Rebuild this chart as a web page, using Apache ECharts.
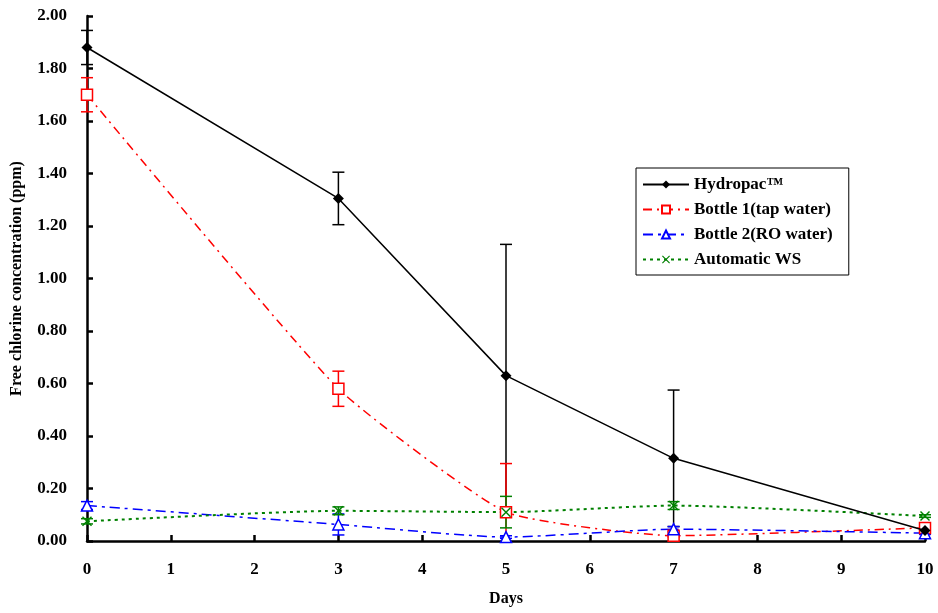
<!DOCTYPE html>
<html>
<head>
<meta charset="utf-8">
<script src="https://cdn.jsdelivr.net/npm/echarts@6/dist/echarts.min.js"></script>
<style>
  html, body { margin: 0; padding: 0; background: #fff; }
  #container { width: 938px; height: 613px; }
</style>
</head>
<body>
<div id="container"></div>
<script>
// days sampled
let days = [0, 3, 5, 7, 10];

// mean free chlorine (ppm) and error bar half-widths
let hydropac = [1.88, 1.305, 0.63, 0.315, 0.04];
let hydropacErr = [0.065, 0.10, 0.50, 0.26, 0];
let bottle1 = [1.70, 0.58, 0.11, 0.02, 0.05];
let bottle1Err = [0.065, 0.067, 0.185, 0.005, 0.005];
let bottle2 = [0.135, 0.063, 0.015, 0.045, 0.03];
let bottle2Err = [0.015, 0.04, 0.005, 0.01, 0.005];
let autoWS = [0.075, 0.115, 0.11, 0.135, 0.095];
let autoWSErr = [0.01, 0.015, 0.06, 0.015, 0.005];

let xTicks = [0, 1, 2, 3, 4, 5, 6, 7, 8, 9, 10];

const font = 'Liberation Serif';
const crossPath = 'path://M0,1L1,0L5,4L9,0L10,1L6,5L10,9L9,10L5,6L1,10L0,9L4,5Z';

function pairs(ys) {
    return days.map((d, i) => [d, ys[i]]);
}

function errData(ys, errs) {
    return days.map((d, i) => [d, ys[i], errs[i]]);
}

function errSeries(name, ys, errs, color) {
    return {
        type: 'custom',
        name: name + ' err',
        silent: true,
        z: 1,
        data: errData(ys, errs),
        renderItem: function (params, api) {
            let x = api.value(0), y = api.value(1), e = api.value(2);
            if (!e) return;
            let lowVal = y - e;
            let top = api.coord([x, y + e]);
            let bot = api.coord([x, Math.max(lowVal, 0)]);
            let w = 6;
            let style = { stroke: color, lineWidth: 1.5 };
            let kids = [
                { type: 'line', shape: { x1: top[0], y1: top[1], x2: bot[0], y2: bot[1] }, style: style },
                { type: 'line', shape: { x1: top[0] - w, y1: top[1], x2: top[0] + w, y2: top[1] }, style: style }
            ];
            if (lowVal >= 0) {
                kids.push({ type: 'line', shape: { x1: bot[0] - w, y1: bot[1], x2: bot[0] + w, y2: bot[1] }, style: style });
            }
            return { type: 'group', children: kids };
        }
    };
}

var dom = document.getElementById('container');
var myChart = echarts.init(dom, null, { renderer: 'canvas' });

var option = {
    animation: false,
    backgroundColor: '#fff',
    grid: { left: 87, right: 13, top: 16, bottom: 72, outerBoundsMode: 'none' },
    legend: {
        orient: 'vertical',
        left: 636,
        top: 168,
        padding: [8, 16, 7, 6],
        itemGap: 8,
        itemWidth: 46,
        itemHeight: 10,
        borderColor: '#000',
        borderWidth: 1,
        backgroundColor: '#fff',
        data: ['Hydropac™', 'Bottle 1(tap water)', 'Bottle 2(RO water)', 'Automatic WS'],
        textStyle: { fontFamily: font, fontWeight: 'bold', fontSize: 17, color: '#000' }
    },
    xAxis: {
        type: 'value',
        min: 0,
        max: 10,
        interval: 1,
        name: 'Days',
        nameLocation: 'middle',
        nameGap: 50,
        nameTextStyle: { fontFamily: font, fontWeight: 'bold', fontSize: 16, color: '#000' },
        axisLine: { lineStyle: { color: '#000', width: 2.5 } },
        axisTick: { inside: true, length: 6, lineStyle: { color: '#000', width: 2.5 } },
        axisLabel: { margin: 20, fontFamily: font, fontWeight: 'bold', fontSize: 17, color: '#000',
            formatter: v => xTicks.includes(v) ? String(v) : '' },
        splitLine: { show: false }
    },
    yAxis: {
        type: 'value',
        min: 0,
        max: 2,
        interval: 0.2,
        name: 'Free chlorine concentration (ppm)',
        nameLocation: 'middle',
        nameGap: 62,
        nameTextStyle: { fontFamily: font, fontWeight: 'bold', fontSize: 16, color: '#000' },
        axisLine: { show: true, lineStyle: { color: '#000', width: 2.5 } },
        axisTick: { show: true, inside: true, length: 6, lineStyle: { color: '#000', width: 2.5 } },
        axisLabel: { margin: 20, fontFamily: font, fontWeight: 'bold', fontSize: 17, color: '#000',
            formatter: v => v.toFixed(2) },
        splitLine: { show: false }
    },
    series: [
        errSeries('Hydropac™', hydropac, hydropacErr, '#000'),
        errSeries('Bottle 1(tap water)', bottle1, bottle1Err, '#ff0000'),
        errSeries('Bottle 2(RO water)', bottle2, bottle2Err, '#0000ff'),
        errSeries('Automatic WS', autoWS, autoWSErr, '#008000'),
        {
            name: 'Hydropac™',
            type: 'line',
            data: pairs(hydropac),
            symbol: 'diamond',
            symbolSize: 11,
            z: 5,
            itemStyle: { color: '#000' },
            lineStyle: { color: '#000', width: 1.5 }
        },
        {
            name: 'Bottle 1(tap water)',
            type: 'line',
            data: pairs(bottle1),
            smooth: 0.15,
            symbol: 'rect',
            symbolSize: 11,
            z: 4,
            itemStyle: { color: '#fff', borderColor: '#ff0000', borderWidth: 1.5 },
            lineStyle: { color: '#ff0000', width: 1.5, type: [9, 5, 2, 5] }
        },
        {
            name: 'Bottle 2(RO water)',
            type: 'line',
            data: pairs(bottle2),
            smooth: 0.2,
            symbol: 'triangle',
            symbolSize: 11,
            z: 4,
            itemStyle: { color: '#fff', borderColor: '#0000ff', borderWidth: 1.5 },
            lineStyle: { color: '#0000ff', width: 1.5, type: [10, 5, 3, 5] }
        },
        {
            name: 'Automatic WS',
            type: 'line',
            data: pairs(autoWS),
            smooth: 0.2,
            symbol: crossPath,
            symbolSize: 10,
            z: 4,
            itemStyle: { color: '#008000' },
            lineStyle: { color: '#008000', width: 2, type: [3, 4] }
        }
    ]
};

myChart.setOption(option);
window.addEventListener('resize', myChart.resize);
</script>
</body>
</html>
